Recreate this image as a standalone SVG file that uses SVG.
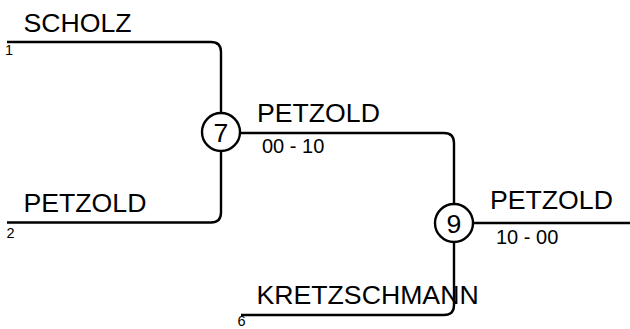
<svg xmlns="http://www.w3.org/2000/svg" width="630" height="329" viewBox="0 0 630 329">
<style>
.ln{fill:none;stroke:#000;stroke-width:2.4;stroke-linecap:butt}
.nd{fill:#fff;stroke:#000;stroke-width:2.4}
text{font-family:"Liberation Sans",Arial,sans-serif;fill:#000}
.nm{font-size:26.67px}
.sc{font-size:20px}
.sd{font-size:14.5px}
.num{font-size:26.67px;text-anchor:middle}
</style>
<rect width="630" height="329" fill="#fff"/>
<g id="connectors">
<path class="ln" d="M7 42 H211 Q221 42 221 52 V113"/>
<path class="ln" d="M7 222.5 H211 Q221 222.5 221 212.5 V151"/>
<path class="ln" d="M240 133 H444 Q454 133 454 143 V204"/>
<path class="ln" d="M473 223 H630"/>
<path class="ln" d="M454 242 V305 Q454 315 444 315 H241"/>
</g>
<g id="entry1"><text class="nm" x="23.5" y="32">SCHOLZ</text><text class="sd" x="5" y="55">1</text></g>
<g id="entry2"><text class="nm" x="23.5" y="212">PETZOLD</text><text class="sd" x="6.5" y="237.5">2</text></g>
<g id="entry6"><text class="nm" x="256.5" y="303.5">KRETZSCHMANN</text><text class="sd" x="237.5" y="326">6</text></g>
<g id="match7">
<circle class="nd" cx="221" cy="132" r="19"/>
<text class="num" x="221" y="141.5">7</text>
<text class="nm" x="257" y="122">PETZOLD</text>
<text class="sc" x="262" y="153">00 - 10</text>
</g>
<g id="match9">
<circle class="nd" cx="454" cy="223" r="19"/>
<text class="num" x="454" y="232.5">9</text>
<text class="nm" x="490" y="208.5">PETZOLD</text>
<text class="sc" x="496" y="244">10 - 00</text>
</g>
</svg>
